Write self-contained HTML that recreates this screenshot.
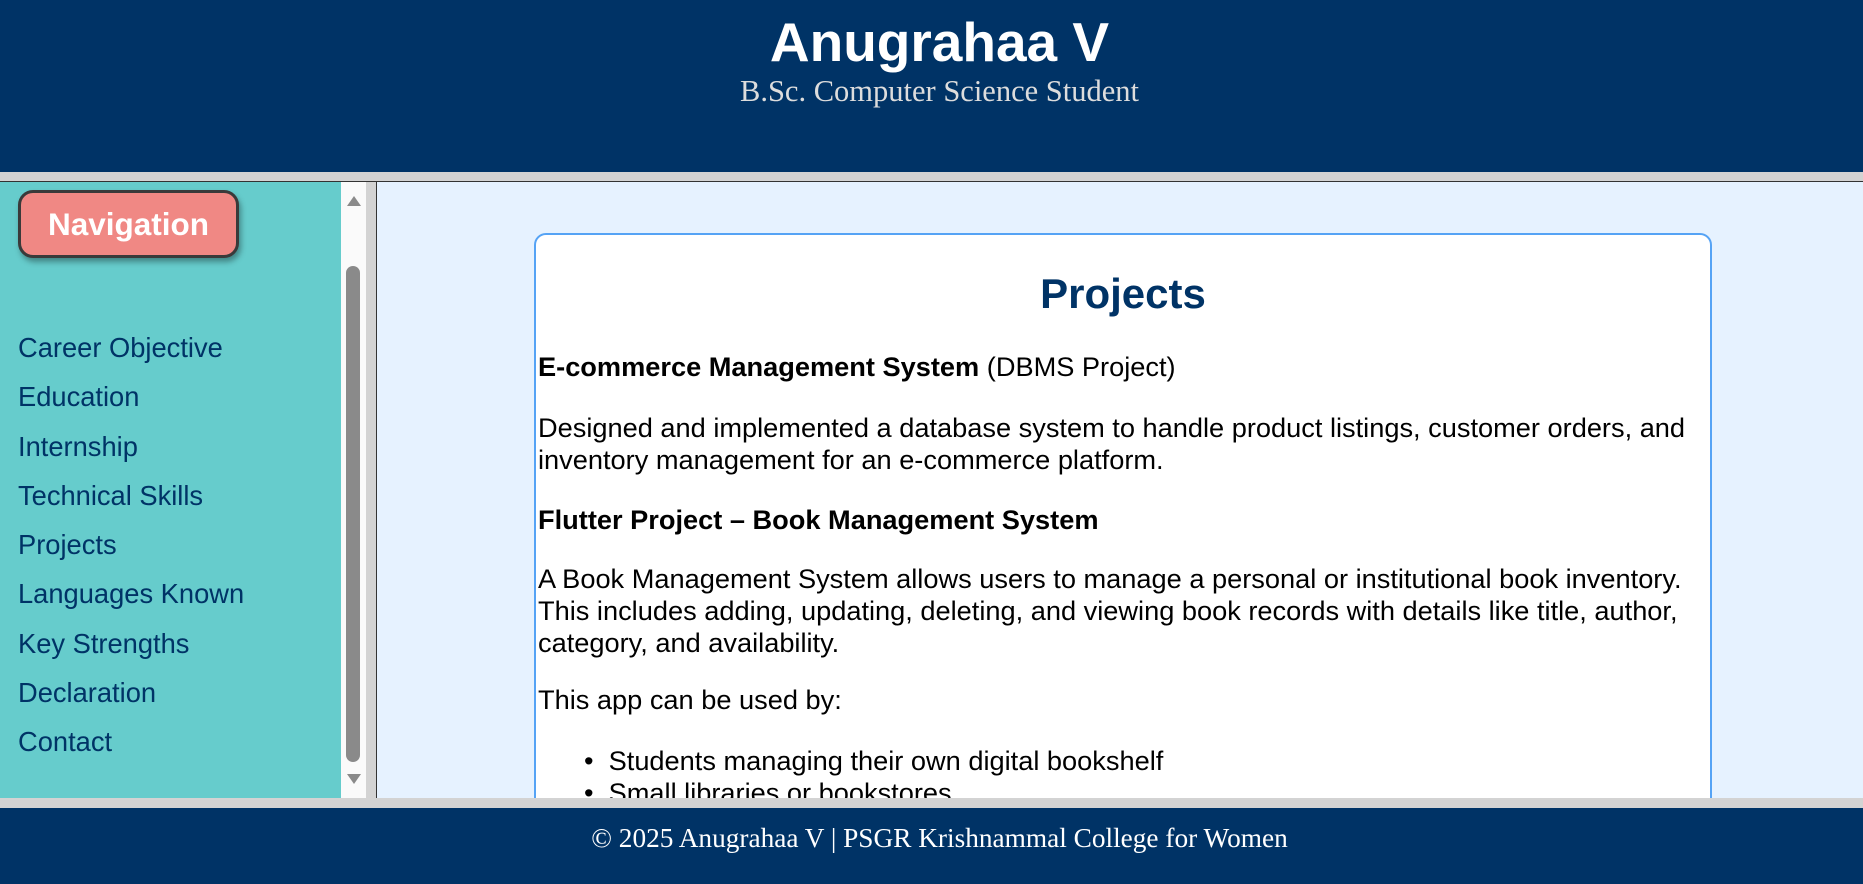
<!DOCTYPE html>
<html><head><meta charset="utf-8"><style>
*{margin:0;padding:0;box-sizing:border-box}
body{width:1863px;height:884px;overflow:hidden;position:relative;background:#d3d3d3;font-family:"Liberation Sans",sans-serif}
#hdr{position:absolute;left:0;top:0;width:1863px;height:172px;background:#003366;text-align:center;color:#fff;padding-left:16px}
#hdr h1{position:absolute;left:16px;right:0;top:8px;font-size:55px;font-weight:bold;line-height:68px}
#hdr p{position:absolute;left:16px;right:0;top:74px;font-family:"Liberation Serif",serif;font-size:30.5px;color:#ddd}
#side{position:absolute;left:0;top:181px;width:341px;height:617px;background:#66cccc;border-top:1px solid #333}
#sb{position:absolute;left:341px;top:181px;width:25px;height:617px;background:#fafafa;border-top:1px solid #333}
#gap{position:absolute;left:366px;top:181px;width:10px;height:617px;background:#d3d3d3;border-top:1px solid #333}
#main{position:absolute;left:376px;top:181px;width:1487px;height:617px;background:#e6f2ff;border-left:1px solid #333;border-top:1px solid #333;overflow:hidden}
#nav{position:absolute;left:18px;top:190px;width:221px;height:68px;background:#f08884;border:3px solid #3a3a3a;border-radius:15px;box-shadow:2px 4px 6px rgba(0,0,0,.35);color:#fff;font-weight:bold;font-size:31.5px;text-align:center;line-height:62px}
.l{position:absolute;left:18px;font-size:27.3px;color:#003366;line-height:30px}
#card{position:absolute;left:157px;top:51px;width:1178px;height:700px;background:#fff;border:2px solid #55a3f5;border-radius:12px;overflow:hidden}
#card h2{position:absolute;left:0;right:0;top:35px;text-align:center;color:#003366;font-size:42px}
.t{position:absolute;left:2px;font-size:27.2px;line-height:32px;color:#000;white-space:nowrap}
#foot{position:absolute;left:0;top:808px;width:1863px;height:76px;background:#003366;color:#fff;text-align:center;font-family:"Liberation Serif",serif;font-size:27.3px;line-height:60px;padding-left:16px}
</style></head><body>
<div id="hdr"><h1>Anugrahaa V</h1><p>B.Sc. Computer Science Student</p></div>
<div id="side"></div>
<div id="sb">
<div style="position:absolute;left:6px;top:14px;width:0;height:0;border-left:7px solid transparent;border-right:7px solid transparent;border-bottom:10px solid #8a8a8a"></div>
<div style="position:absolute;left:5px;top:84px;width:14px;height:496px;background:#8a8a8a;border-radius:7px"></div>
<div style="position:absolute;left:6px;top:592px;width:0;height:0;border-left:7px solid transparent;border-right:7px solid transparent;border-top:10px solid #8a8a8a"></div>
</div>
<div id="gap"></div>
<div id="nav">Navigation</div>
<div class="l" style="top:333px">Career Objective</div>
<div class="l" style="top:382px">Education</div>
<div class="l" style="top:432px">Internship</div>
<div class="l" style="top:481px">Technical Skills</div>
<div class="l" style="top:530px">Projects</div>
<div class="l" style="top:579px">Languages Known</div>
<div class="l" style="top:629px">Key Strengths</div>
<div class="l" style="top:678px">Declaration</div>
<div class="l" style="top:727px">Contact</div>
<div id="main">
<div id="card">
<h2>Projects</h2>
<div class="t" style="top:116px"><b>E-commerce Management System</b> (DBMS Project)</div>
<div class="t" style="top:177px">Designed and implemented a database system to handle product listings, customer orders, and<br>inventory management for an e-commerce platform.</div>
<div class="t" style="top:269px"><b>Flutter Project – Book Management System</b></div>
<div class="t" style="top:328px">A Book Management System allows users to manage a personal or institutional book inventory.<br>This includes adding, updating, deleting, and viewing book records with details like title, author,<br>category, and availability.</div>
<div class="t" style="top:449px">This app can be used by:</div>
<div class="t" style="top:510px;left:48px">•&nbsp; Students managing their own digital bookshelf<br>•&nbsp; Small libraries or bookstores</div>
</div>
</div>
<div id="foot">© 2025 Anugrahaa V | PSGR Krishnammal College for Women</div>
</body></html>
